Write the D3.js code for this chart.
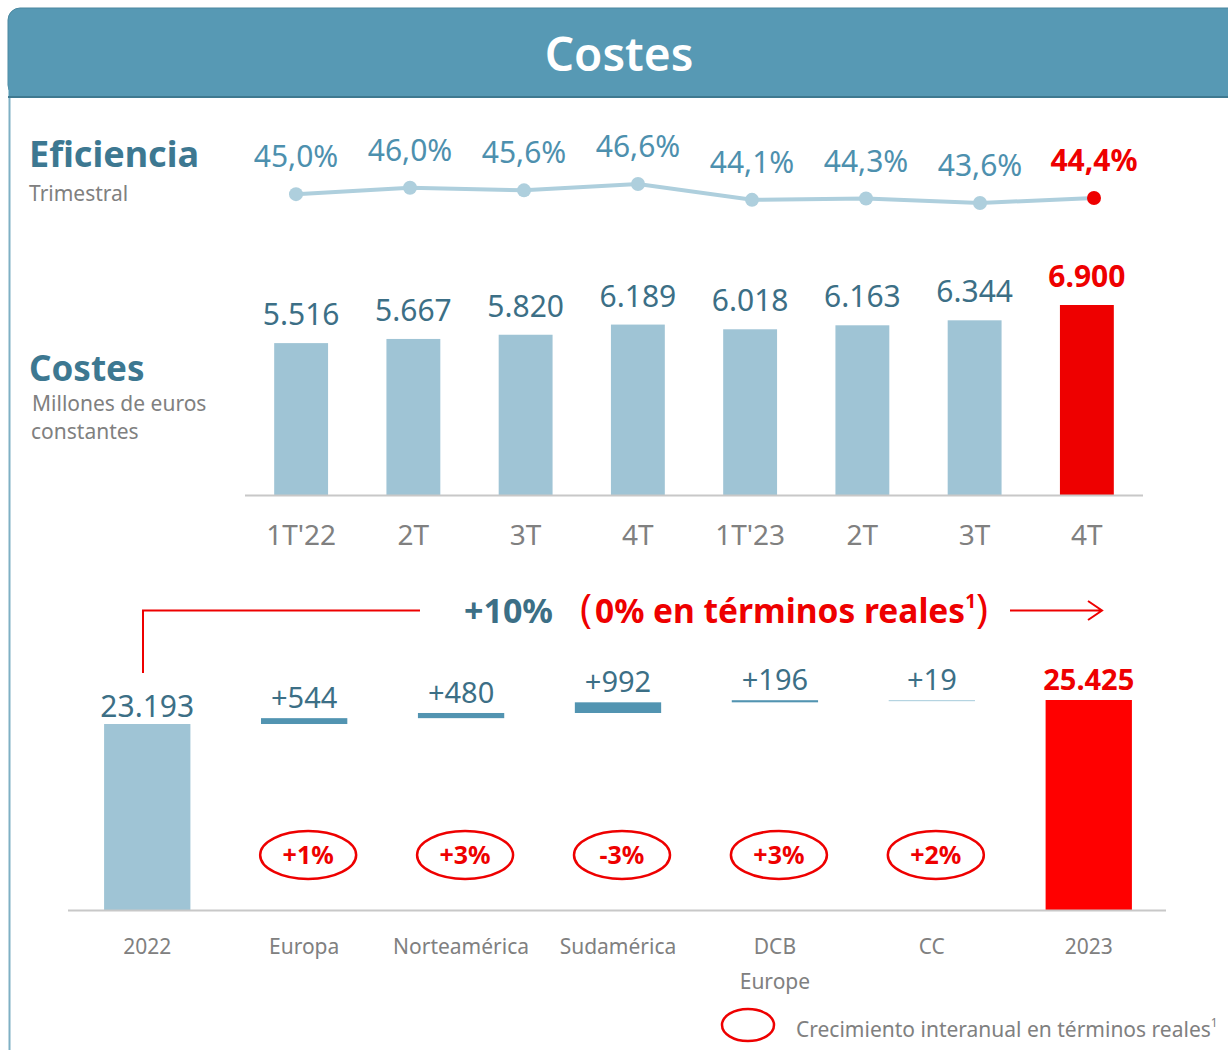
<!DOCTYPE html>
<html>
<head>
<meta charset="utf-8">
<script src="https://cdn.jsdelivr.net/npm/d3@7"></script>
<style>
  body { margin: 0; background: #fff; }
  #chart { width: 1228px; height: 1050px; }
  text { font-family: "Noto Sans", "Open Sans", sans-serif; }
</style>
</head>
<body>
<div id="chart"></div>
<script>
// constants
const width = 1228;
const height = 1050;
const teal = "#3d7891";
const tealLight = "#4d90ae";
const grey = "#808080";
const red = "#ee0000";

// data
const eficiencia = [45.0, 46.0, 45.6, 46.6, 44.1, 44.3, 43.6, 44.4];
const costes = [
    { q: "1T'22", v: 5516 }, { q: "2T", v: 5667 }, { q: "3T", v: 5820 }, { q: "4T", v: 6189 },
    { q: "1T'23", v: 6018 }, { q: "2T", v: 6163 }, { q: "3T", v: 6344 }, { q: "4T", v: 6900 }
];
const waterfall = [
    { name: ["2022"], v: 23193, type: "total" },
    { name: ["Europa"], v: 544, type: "step", growth: "+1%" },
    { name: ["Norteamérica"], v: 480, type: "step", growth: "+3%" },
    { name: ["Sudamérica"], v: 992, type: "step", growth: "-3%" },
    { name: ["DCB", "Europe"], v: 196, type: "step", growth: "+3%" },
    { name: ["CC"], v: 19, type: "step", growth: "+2%" },
    { name: ["2023"], v: 25425, type: "final" }
];

const fmt = d3.formatLocale({ decimal: ",", thousands: ".", grouping: [3], currency: ["", "€"] });
const fmtInt = fmt.format(",d");
const fmtPct = fmt.format(".1f");

// svg container
const svg = d3.select("#chart")
    .append("svg")
    .attr("width", width)
    .attr("height", height);

// header
svg.append("rect")
    .attr("x", 8).attr("y", 8)
    .attr("width", 1240).attr("height", 89)
    .attr("rx", 12)
    .attr("fill", "#5799b4")
    .attr("stroke", "#4a879f");
svg.append("rect")
    .attr("x", 8.5).attr("y", 60)
    .attr("width", 1240).attr("height", 37)
    .attr("fill", "#5799b4");
svg.append("line")
    .attr("x1", 8).attr("x2", width)
    .attr("y1", 97).attr("y2", 97)
    .attr("stroke", "#3f7990").attr("stroke-width", 2);
svg.append("text")
    .attr("x", 619).attr("y", 71)
    .attr("text-anchor", "middle")
    .attr("fill", "#fff")
    .attr("font-size", 46)
    .attr("font-weight", 600)
    .attr("font-stretch", "condensed")
    .text("Costes");

// left border
svg.append("line")
    .attr("x1", 9.5).attr("x2", 9.5)
    .attr("y1", 98).attr("y2", height)
    .attr("stroke", "#7fb0c4").attr("stroke-width", 2);

// side titles
svg.append("text").attr("x", 29).attr("y", 167)
    .attr("fill", teal).attr("font-size", 36).attr("font-weight", 700)
    .text("Eficiencia");
svg.append("text").attr("x", 29).attr("y", 201)
    .attr("fill", grey).attr("font-size", 21)
    .text("Trimestral");
svg.append("text").attr("x", 29).attr("y", 381)
    .attr("fill", teal).attr("font-size", 35).attr("font-weight", 700)
    .text("Costes");
svg.append("text").attr("x", 32).attr("y", 411)
    .attr("fill", grey).attr("font-size", 21)
    .text("Millones de euros");
svg.append("text").attr("x", 31).attr("y", 439)
    .attr("fill", grey).attr("font-size", 21)
    .text("constantes");

// quarterly x scale for bars
const x = d3.scaleBand()
    .domain(d3.range(costes.length))
    .range([245, 1143])
    .paddingInner(0.52)
    .paddingOuter(0.26);

// efficiency line, own point scale
const xEf = d3.scalePoint().domain(d3.range(eficiencia.length)).range([296, 1094]);
const yEf = d3.scaleLinear().domain([43.6, 46.6]).range([203, 184]);
const gEf = svg.append("g").attr("id", "eficiencia");

gEf.append("path")
    .datum(eficiencia)
    .attr("fill", "none")
    .attr("stroke", "#aecfdd")
    .attr("stroke-width", 4)
    .attr("d", d3.line().x((d, i) => xEf(i)).y(d => yEf(d)));

gEf.selectAll("circle")
    .data(eficiencia)
    .enter().append("circle")
    .attr("cx", (d, i) => xEf(i))
    .attr("cy", d => yEf(d))
    .attr("r", 7)
    .attr("fill", (d, i) => i === eficiencia.length - 1 ? red : "#aecfdd");

gEf.selectAll("text")
    .data(eficiencia)
    .enter().append("text")
    .attr("x", (d, i) => xEf(i))
    .attr("y", d => yEf(d) - 27)
    .attr("text-anchor", "middle")
    .attr("font-size", 30)
    .attr("font-weight", (d, i) => i === eficiencia.length - 1 ? 700 : 400)
    .attr("fill", (d, i) => i === eficiencia.length - 1 ? red : tealLight)
    .text(d => fmtPct(d) + "%");

// quarterly cost bars
const yCost = d3.scaleLinear().domain([0, 6900]).range([495, 305]);
const gCost = svg.append("g").attr("id", "costes");

gCost.selectAll("rect")
    .data(costes)
    .enter().append("rect")
    .attr("x", (d, i) => x(i))
    .attr("y", d => yCost(d.v))
    .attr("width", x.bandwidth())
    .attr("height", d => yCost(0) - yCost(d.v))
    .attr("fill", (d, i) => i === costes.length - 1 ? red : "#9fc4d5");

gCost.selectAll(".val")
    .data(costes)
    .enter().append("text")
    .attr("class", "val")
    .attr("x", (d, i) => x(i) + x.bandwidth() / 2)
    .attr("y", d => yCost(d.v) - 18)
    .attr("text-anchor", "middle")
    .attr("font-size", 30)
    .attr("font-weight", (d, i) => i === costes.length - 1 ? 700 : 400)
    .attr("fill", (d, i) => i === costes.length - 1 ? red : "#3c6f86")
    .text(d => fmtInt(d.v));

gCost.append("line")
    .attr("x1", 245).attr("x2", 1143)
    .attr("y1", 495.5).attr("y2", 495.5)
    .attr("stroke", "#c8c8c8").attr("stroke-width", 2);

gCost.selectAll(".lbl")
    .data(costes)
    .enter().append("text")
    .attr("class", "lbl")
    .attr("x", (d, i) => x(i) + x.bandwidth() / 2)
    .attr("y", 545)
    .attr("text-anchor", "middle")
    .attr("font-size", 28)
    .attr("fill", grey)
    .text(d => d.q);

// waterfall
const xW = d3.scaleBand()
    .domain(d3.range(waterfall.length))
    .range([68, 1168])
    .paddingInner(0.45)
    .paddingOuter(0.23);
const yW = d3.scaleLinear().domain([5900, 25425]).range([910, 700]);

let running = 0;
waterfall.forEach(d => {
    if (d.type === "step") {
        d.y0 = running;
        d.y1 = running + d.v;
        running = d.y1;
    } else {
        d.y0 = yW.domain()[0];
        d.y1 = d.v;
        running = d.v;
    }
});

const gW = svg.append("g").attr("id", "waterfall");

gW.selectAll("rect")
    .data(waterfall)
    .enter().append("rect")
    .attr("x", (d, i) => xW(i))
    .attr("y", d => yW(d.y1))
    .attr("width", xW.bandwidth())
    .attr("height", d => Math.max(yW(d.y0) - yW(d.y1), 1.2))
    .attr("fill", d => d.type === "final" ? "#ff0000"
        : d.type === "total" ? "#9fc4d5"
        : d.v < 50 ? "#b5d4e1" : "#5294b1");

gW.selectAll(".val")
    .data(waterfall)
    .enter().append("text")
    .attr("class", "val")
    .attr("x", (d, i) => xW(i) + xW.bandwidth() / 2)
    .attr("y", d => yW(d.y1) - (d.type === "total" ? 7 : 10))
    .attr("text-anchor", "middle")
    .attr("font-size", d => d.type === "total" ? 30 : 29)
    .attr("font-weight", d => d.type === "final" ? 700 : 400)
    .attr("fill", d => d.type === "final" ? red : "#3c6f86")
    .text(d => d.type === "step" ? "+" + fmtInt(d.v) : fmtInt(d.v));

gW.append("line")
    .attr("x1", 68).attr("x2", 1166)
    .attr("y1", 910.5).attr("y2", 910.5)
    .attr("stroke", "#c8c8c8").attr("stroke-width", 2);

// category labels
const cat = gW.selectAll(".cat")
    .data(waterfall)
    .enter().append("text")
    .attr("class", "cat")
    .attr("text-anchor", "middle")
    .attr("font-size", 21)
    .attr("fill", grey);
cat.selectAll("tspan")
    .data((d, i) => d.name.map(n => ({ n, i })))
    .enter().append("tspan")
    .attr("x", d => xW(d.i) + xW.bandwidth() / 2)
    .attr("y", (d, j) => 954 + j * 35)
    .text(d => d.n);

// growth ellipses
const steps = waterfall.map((d, i) => ({ ...d, i })).filter(d => d.type === "step");
const growthX = d => xW(d.i) + xW.bandwidth() / 2 + 4;
gW.selectAll("ellipse")
    .data(steps)
    .enter().append("ellipse")
    .attr("cx", growthX)
    .attr("cy", 855)
    .attr("rx", 48)
    .attr("ry", 24)
    .attr("fill", "none")
    .attr("stroke", red)
    .attr("stroke-width", 2.5);
gW.selectAll(".growth")
    .data(steps)
    .enter().append("text")
    .attr("class", "growth")
    .attr("x", growthX)
    .attr("y", 864)
    .attr("text-anchor", "middle")
    .attr("font-size", 25)
    .attr("font-weight", 700)
    .attr("fill", red)
    .text(d => d.growth);

// total growth annotation
const ann = svg.append("g").attr("id", "annotation");
ann.append("path")
    .attr("d", "M143,673 V610.5 H420")
    .attr("fill", "none")
    .attr("stroke", red)
    .attr("stroke-width", 2);
ann.append("text")
    .attr("x", 464).attr("y", 623)
    .attr("fill", "#3c6f86")
    .attr("font-size", 34)
    .attr("font-weight", 700)
    .text("+10%");
const real = ann.append("text")
    .attr("x", 580).attr("y", 623)
    .attr("fill", red)
    .attr("font-size", 33.5)
    .attr("font-weight", 700);
real.append("tspan").attr("font-size", 40).attr("font-weight", 400).text("(");
real.append("tspan").attr("dx", 3).text("0% en términos reales");
real.append("tspan").attr("font-size", 19).attr("dy", -15).text("1");
real.append("tspan").attr("font-size", 40).attr("font-weight", 400).attr("dy", 15).text(")");
ann.append("path")
    .attr("d", "M1010,610.5 H1102 M1088,601 L1102,610.5 L1088,620")
    .attr("fill", "none")
    .attr("stroke", red)
    .attr("stroke-width", 2);

// legend
const legend = svg.append("g").attr("id", "legend");
legend.append("ellipse")
    .attr("cx", 748).attr("cy", 1025)
    .attr("rx", 26).attr("ry", 16)
    .attr("fill", "none")
    .attr("stroke", red)
    .attr("stroke-width", 2.5);
const legText = legend.append("text")
    .attr("x", 796).attr("y", 1037)
    .attr("fill", grey)
    .attr("font-size", 21);
legText.append("tspan").text("Crecimiento interanual en términos reales");
legText.append("tspan").attr("font-size", 12).attr("dy", -10).text("1");
</script>
</body>
</html>
